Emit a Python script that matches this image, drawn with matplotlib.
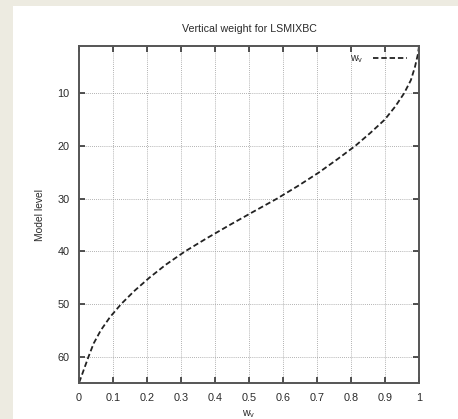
import matplotlib.pyplot as plt
from matplotlib.patches import Rectangle

# vertical weight profile per model level
levels = [1, 2.5, 5, 7.5, 10, 12.5, 15, 17.5, 20, 22.5, 25, 27.5, 30, 32.5,
          35, 37.5, 40, 42.5, 45, 47.5, 50, 52.5, 55, 57.5, 60, 62.5, 65]
weights = [1.000, 0.997, 0.988, 0.976, 0.956, 0.930, 0.899, 0.857, 0.812,
           0.760, 0.706, 0.646, 0.582, 0.512, 0.443, 0.376, 0.312, 0.256,
           0.207, 0.163, 0.124, 0.091, 0.064, 0.043, 0.028, 0.014, 0.000]

x_ticks = [0, 0.1, 0.2, 0.3, 0.4, 0.5, 0.6, 0.7, 0.8, 0.9, 1]
x_tick_labels = ["0", "0.1", "0.2", "0.3", "0.4", "0.5", "0.6", "0.7", "0.8", "0.9", "1"]
y_ticks = [10, 20, 30, 40, 50, 60]

plt.rcParams["font.family"] = ["Liberation Sans", "DejaVu Sans"]
plt.rcParams["mathtext.fontset"] = "custom"
plt.rcParams["mathtext.rm"] = "Liberation Sans"

W, H = 458, 419
fig = plt.figure(figsize=(W / 100, H / 100), dpi=100, facecolor="#edebe1")
fig.patches.append(Rectangle((13 / W, 0), 1 - 13 / W, 1 - 6 / H,
                             transform=fig.transFigure, facecolor="white",
                             edgecolor="none", zorder=-5))

ax = fig.add_axes([79 / W, 36 / H, 340 / W, 337 / H])
ax.set_zorder(1)
ax.plot(weights, levels, color="#222222", linestyle=(0, (3, 1.6)),
        linewidth=1.3, label=r"w$_{\rm v}$")

ax.set_xlim(0, 1)
ax.set_ylim(65, 1)
ax.set_xticks(x_ticks)
ax.set_xticklabels(x_tick_labels)
ax.set_yticks(y_ticks)

ax.grid(True, color="#999999", linestyle=(0, (1, 1.5)), linewidth=0.6)
ax.tick_params(direction="in", length=4, width=1.2, top=True, right=True,
               labelsize=7.8, labelcolor="#2a2a2a", color="#333333", pad=7)
for s in ax.spines.values():
    s.set_color("#555555")
    s.set_linewidth(1.4)

ax.set_title("Vertical weight for LSMIXBC", fontsize=7.7, color="#2a2a2a", pad=10)
ax.set_xlabel(r"w$_{\rm v}$", fontsize=7.6, color="#2a2a2a", labelpad=4)
ax.set_ylabel("Model level", fontsize=7.4, color="#2a2a2a", labelpad=9)

ax.legend(loc="upper right", bbox_to_anchor=(0.965, 0.978), frameon=False,
          markerfirst=False, fontsize=7.6, handlelength=3.2, handletextpad=0.9,
          borderaxespad=0, borderpad=0, labelcolor="#2a2a2a")

fig.savefig("out.png", dpi=100, facecolor=fig.get_facecolor())
